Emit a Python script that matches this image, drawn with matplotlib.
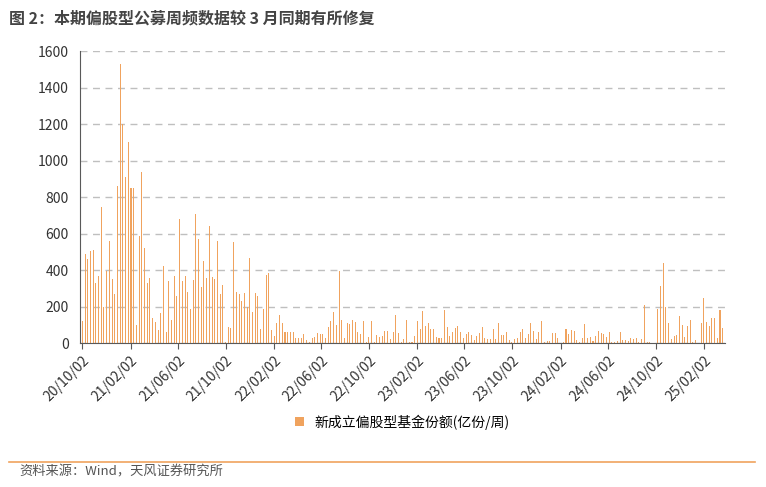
import matplotlib
matplotlib.use("Agg")
import matplotlib.pyplot as plt
import numpy as np
import pandas as pd

plt.rcParams['font.family'] = ['Noto Sans CJK SC', 'DejaVu Sans']

values = [120,490,460,505,510,330,370,745,200,395,560,355,270,860,1530,1200,910,1100,850,850,100,590,940,520,330,360,140,115,75,165,425,60,340,130,370,260,680,340,370,280,190,345,710,570,310,450,360,645,365,350,560,270,320,10,90,85,555,280,270,230,275,200,470,170,275,260,80,190,375,385,75,40,110,155,110,60,
          60,60,60,30,30,30,50,20,10,30,35,55,50,50,30,90,120,170,100,395,130,30,110,105,130,115,60,50,120,5,35,125,10,45,35,40,70,70,25,60,155,55,5,25,130,10,5,40,120,80,175,95,110,80,80,35,30,30,180,90,40,60,85,95,60,30,50,60,45,20,40,55,90,30,25,25,80,25,110,45,45,60,20,10,
          25,30,60,80,30,50,110,70,25,60,120,10,15,15,55,55,30,0,10,80,50,75,65,20,10,30,105,30,35,15,40,65,55,50,35,60,10,5,15,60,20,20,15,30,25,30,5,25,210,5,5,0,0,190,315,440,200,110,25,40,45,150,100,35,95,130,5,20,0,110,250,115,95,140,140,30,185,85]
tick_labels = ["20/10/02","21/02/02","21/06/02","21/10/02","22/02/02","22/06/02","22/10/02",
               "23/02/02","23/06/02","23/10/02","24/02/02","24/06/02","24/10/02","25/02/02"]

start = pd.Timestamp("2020-10-02")
tick_pos = [(pd.Timestamp("20"+t.replace("/", "-")) - start).days / 7 for t in tick_labels]
scale = (len(values) - 1) / ((pd.Timestamp("2025-03-21") - start).days / 7)
tick_pos = [p * scale for p in tick_pos]

fig = plt.figure(figsize=(7.66, 4.87), dpi=100)
ax = fig.add_axes([0.104, 0.295, 0.843, 0.60])
x = np.arange(len(values))
ax.bar(x, values, width=0.38, color='#F0A35E', label='新成立偏股型基金份额(亿份/周)')
ax.set_xlim(-1, len(values))
ax.set_ylim(0, 1600)
ax.set_yticks(range(0, 1601, 200))
ax.yaxis.grid(True, linestyle=(0, (5, 4)), color='#BFBFBF', linewidth=1)
ax.set_axisbelow(True)
ax.set_xticks(tick_pos)
ax.set_xticklabels(tick_labels, rotation=45, ha='right', rotation_mode='anchor')
ax.tick_params(axis='both', labelsize=10, colors='#333333')
ax.tick_params(axis='y', length=0, pad=8)
ax.tick_params(axis='x', length=4, color='#595959')
for s in ['top', 'right']:
    ax.spines[s].set_visible(False)
ax.spines['left'].set_color('#595959')
ax.spines['bottom'].set_color('#595959')
ax.legend(loc='upper center', bbox_to_anchor=(0.5, -0.2), frameon=False, fontsize=10,
          handlelength=0.6, handleheight=0.6)

fig.text(0.012, 0.978, "图 2：本期偏股型公募周频数据较 3 月同期有所修复", fontsize=11.5, fontweight='bold',
         color='#444444', va='top')
fig.add_artist(plt.Line2D([0.012, 0.985], [0.052, 0.052], color='#F0A35E', linewidth=1.2))
fig.text(0.025, 0.018, "资料来源：Wind，天风证券研究所", fontsize=9.5, color='#555555', va='bottom')
fig.savefig("out.png", dpi=100)
